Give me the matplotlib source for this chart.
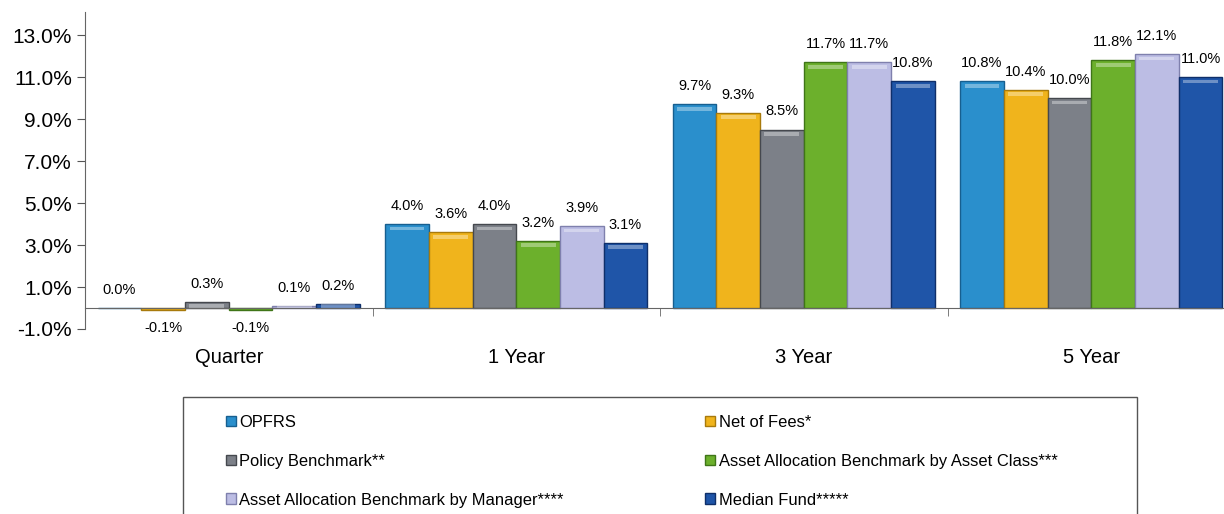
import numpy as np
import matplotlib.pyplot as plt
from matplotlib.patches import Rectangle
from matplotlib.ticker import FuncFormatter

plt.rcParams['font.family'] = ['Liberation Sans', 'DejaVu Sans']

periods = ['Quarter', '1 Year', '3 Year', '5 Year']
series = ['OPFRS', 'Net of Fees*', 'Policy Benchmark**',
          'Asset Allocation Benchmark by Asset Class***',
          'Asset Allocation Benchmark by Manager****', 'Median Fund*****']
opfrs = [0.0, 4.0, 9.7, 10.8]
net_fees = [-0.1, 3.6, 9.3, 10.4]
policy = [0.3, 4.0, 8.5, 10.0]
aa_class = [-0.1, 3.2, 11.7, 11.8]
aa_manager = [0.1, 3.9, 11.7, 12.1]
median = [0.2, 3.1, 10.8, 11.0]
colors = ['#2a8fcc', '#f0b41c', '#7c8088', '#6cb02c', '#bcbde4', '#1f55a8']
edges = ['#175f8f', '#a87a0c', '#45484e', '#3f7518', '#7f80ad', '#0f2f6a']

values = [opfrs, net_fees, policy, aa_class, aa_manager, median]

fig = plt.figure(figsize=(12.24, 5.14), dpi=100)
ax = fig.add_axes([85 / 1224, 185 / 514, 1150 / 1224, 317 / 514])

x = np.arange(len(periods))
w = 0.152
handles = []
for i, (vals, c, ec) in enumerate(zip(values, colors, edges)):
    pos = x + (i - 2.5) * w
    bars = ax.bar(pos, vals, w, color=c, edgecolor=ec, linewidth=1.0,
                  label=series[i])
    # lighter bevel on top of each bar
    ax.bar(pos, [0.18 if v > 0 else 0 for v in vals], w * 0.8,
           bottom=[v - 0.3 if v > 0.3 else 0 for v in vals],
           color='white', alpha=0.35, linewidth=0)
    labels = [f'{v:.1f}%' for v in vals]
    ax.bar_label(bars, labels=labels, padding=8, fontsize=10.5)
    handles.append(bars)

ax.set_xlim(-0.5, 3.5)
ax.set_ylim(-1, 14.1)
ax.set_yticks(np.arange(-1, 14, 2))
ax.yaxis.set_major_formatter(FuncFormatter(lambda v, p: f'{v:.1f}%'))
ax.tick_params(axis='y', labelsize=15, length=6, color='#555555')

ax.spines['top'].set_visible(False)
ax.spines['right'].set_visible(False)
ax.spines['bottom'].set_position(('data', 0))
ax.spines['bottom'].set_color('#666666')
ax.spines['left'].set_color('#666666')
ax.set_xticks(x)
ax.set_xticklabels(periods, fontsize=14.5)
ax.tick_params(axis='x', length=0, pad=29)
ax.set_xticks([0.5, 1.5, 2.5], minor=True)
ax.tick_params(axis='x', which='minor', length=6, color='#666666')

# legend box (cut off at the bottom like the reference)
fig.patches.append(Rectangle((183 / 1224, -0.05), 954 / 1224, 0.05 + 117 / 514,
                             transform=fig.transFigure, fill=False,
                             edgecolor='#555555', linewidth=1.0))
order = [0, 2, 4, 1, 3, 5]
fig.legend([handles[i] for i in order], [series[i] for i in order],
           loc='upper left', bbox_to_anchor=(219 / 1224, 106 / 514),
           ncol=2, frameon=False, fontsize=11.9, handlelength=0.6,
           handleheight=0.6, handletextpad=0.2, labelspacing=1.45,
           columnspacing=8.6, borderaxespad=0)

fig.savefig('out.png', dpi=100)
